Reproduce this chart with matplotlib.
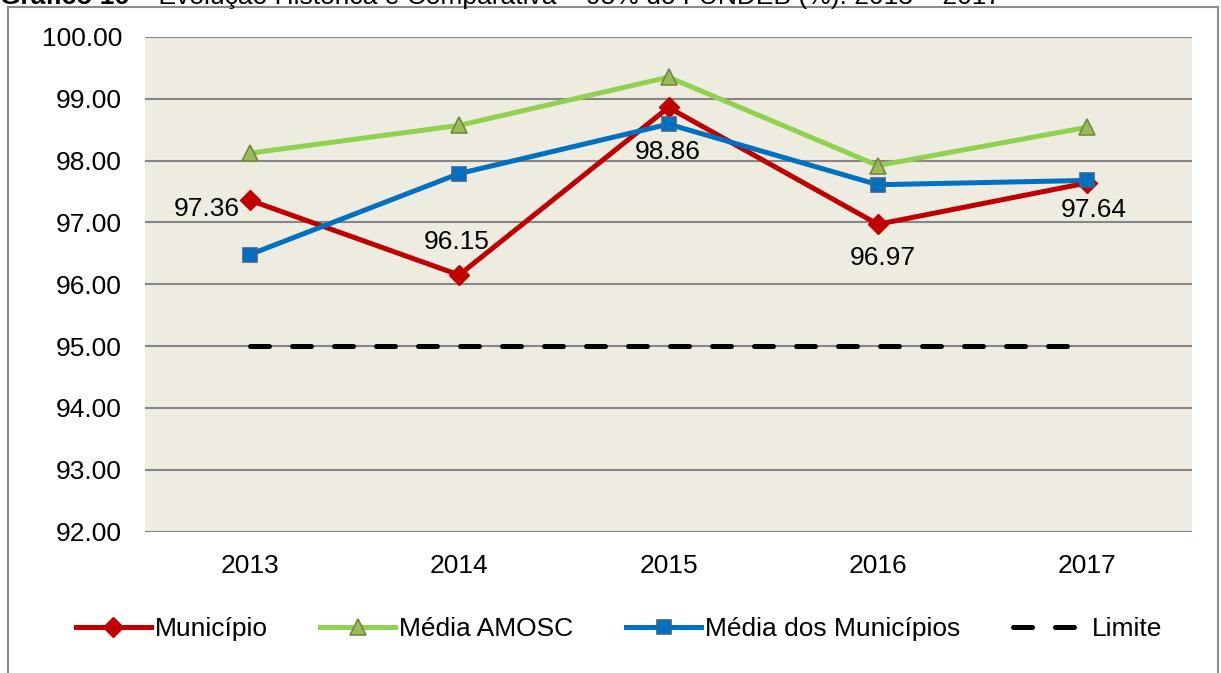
import matplotlib
matplotlib.use("Agg")
import matplotlib.pyplot as plt
from matplotlib.lines import Line2D

plt.rcParams['font.family'] = ['Liberation Sans', 'DejaVu Sans']

years = ["2013", "2014", "2015", "2016", "2017"]
municipio = [97.36, 96.15, 98.86, 96.97, 97.64]
media_amosc = [98.12, 98.57, 99.35, 97.92, 98.54]
media_municipios = [96.48, 97.79, 98.59, 97.61, 97.68]
limite = [95.0, 95.0, 95.0, 95.0, 95.0]
label_texts = ["97.36", "96.15", "98.86", "96.97", "97.64"]
label_offsets_px = [(-43, -9), (-2, 33), (-1, -45), (5, -34), (6, -27)]

FS = 19
W, H = 1221, 673
fig = plt.figure(figsize=(W / 100, H / 100), dpi=100)
fig.patch.set_facecolor('white')

ax = fig.add_axes([145 / W, 1 - 531.5 / H, (1192 - 145) / W, (531.5 - 37) / H])
ax.set_facecolor('#EEECE1')
x = list(range(len(years)))

ax.set_ylim(92, 100)
ax.set_xlim(-0.5, len(years) - 0.5)
ax.set_yticks([92 + i for i in range(9)])
ax.set_yticklabels([f"{92 + i:.2f}" for i in range(9)])
ax.set_xticks(x)
ax.set_xticklabels(years)
ax.tick_params(axis='both', length=0, labelsize=FS, colors='black')
ax.tick_params(axis='y', pad=16.5)
ax.tick_params(axis='x', pad=16)
ax.grid(axis='y', color='#868686', linewidth=1.5)
ax.set_axisbelow(True)
for s in ax.spines.values():
    s.set_visible(False)

lw = 3.6
l_lim, = ax.plot(x, limite, color='black', linewidth=lw, dash_capstyle='round',
                 label='Limite')
l_lim.set_dashes((3.8, 4.6))
l_amosc, = ax.plot(x, media_amosc, color='#92D050', linewidth=lw, marker='^',
                   markersize=11, markerfacecolor='#9BBB59', markeredgecolor='#71893F',
                   markeredgewidth=1.2, label='Média AMOSC')
l_mm, = ax.plot(x, media_municipios, color='#0070C0', linewidth=lw, marker='s',
                markersize=10, markerfacecolor='#0070C0', markeredgecolor='#3C6496',
                markeredgewidth=1.2, label='Média dos Municípios')
l_mun, = ax.plot(x, municipio, color='#C00000', linewidth=lw, marker='D',
                 markersize=10, markerfacecolor='#C00000', markeredgecolor='#C00000',
                 label='Município')
l_mm.set_zorder(4)

for xi, yi, t, (dx, dy) in zip(x, municipio, label_texts, label_offsets_px):
    ax.annotate(t, (xi, yi), xytext=(dx * 0.72, dy * 0.72), textcoords='offset points',
                ha='center', va='center', fontsize=FS, color='black', zorder=6)

leg = fig.legend(handles=[l_mun, l_amosc, l_mm, l_lim],
                 labels=['Município', 'Média AMOSC', 'Média dos Municípios', 'Limite'],
                 loc='center', bbox_to_anchor=(0.507, 1 - 629 / H), ncol=4, frameon=False,
                 fontsize=FS, handlelength=2.84, handletextpad=0.15, columnspacing=2.0)

# outer border
bc = '#8C8C8C'
fig.add_artist(Line2D([8 / W, 8 / W], [0, 1 - 7 / H], color=bc, linewidth=1.5, transform=fig.transFigure))
fig.add_artist(Line2D([8 / W, 1218 / W], [1 - 7 / H, 1 - 7 / H], color=bc, linewidth=1.5, transform=fig.transFigure))
fig.add_artist(Line2D([1218 / W, 1218 / W], [0, 1 - 7 / H], color=bc, linewidth=1.5, transform=fig.transFigure))

# title (partially cut at top, as in the reference)
t1 = fig.text(0.0, 1 - 4 / H, "Gráfico 16", fontsize=FS, fontweight='bold', va='baseline', ha='left')
fig.canvas.draw()
bb = t1.get_window_extent()
fig.text(bb.x1 / W, 1 - 4 / H, " – Evolução Histórica e Comparativa – 95% do FUNDEB (%): 2013 – 2017",
         fontsize=FS, va='baseline', ha='left')

fig.savefig("out.png", dpi=100)
